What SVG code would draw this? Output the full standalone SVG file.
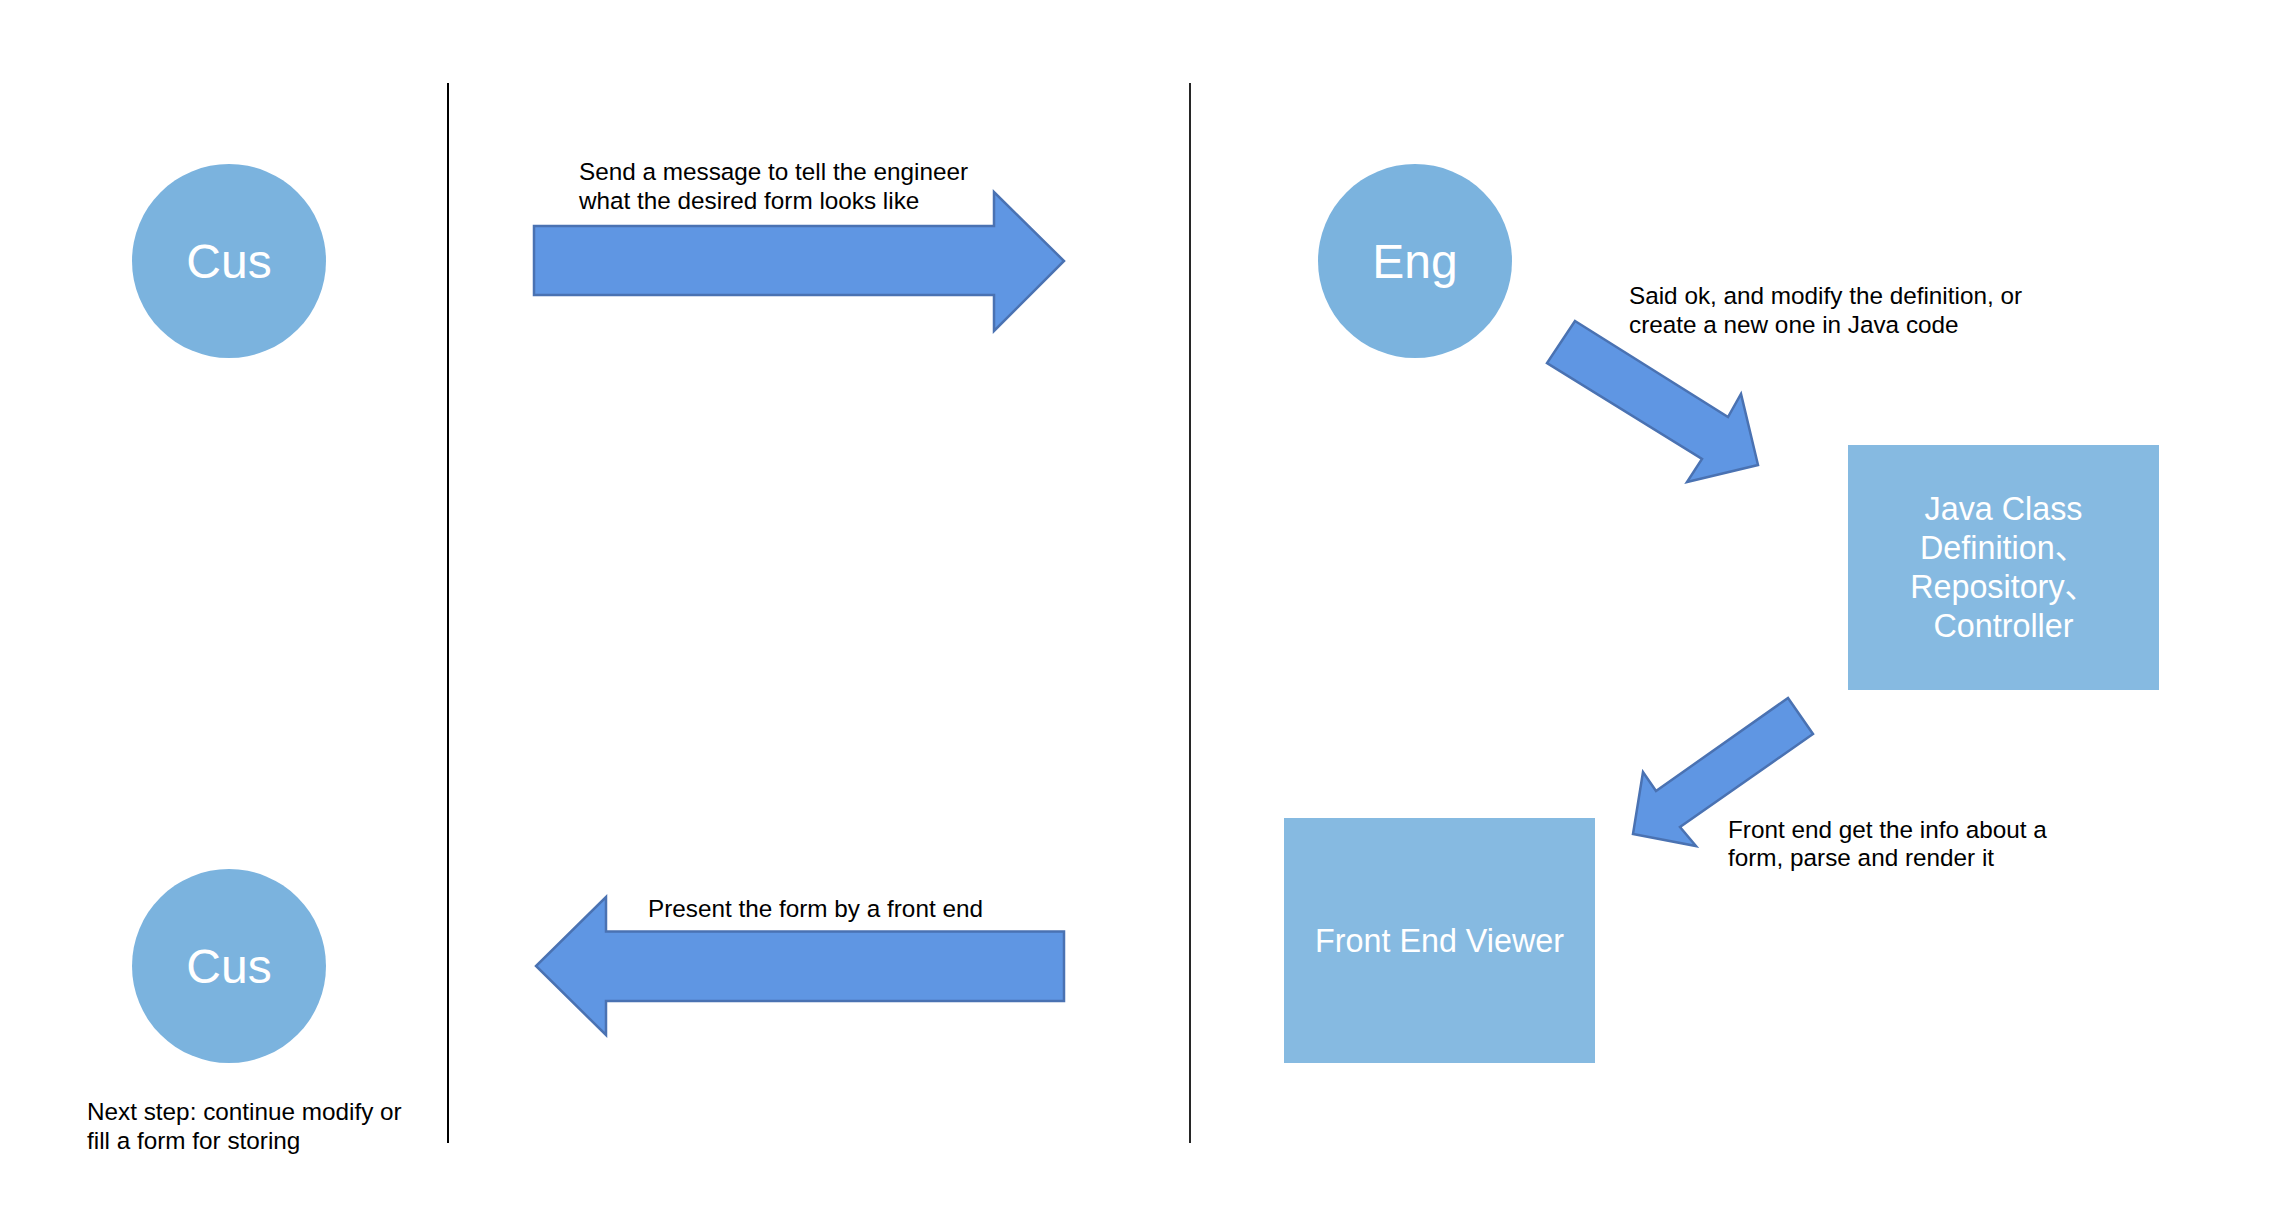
<svg xmlns="http://www.w3.org/2000/svg" width="2289" height="1222" viewBox="0 0 2289 1222">
  <style>
    .actor { fill: #7bb3de; }
    .box { fill: #86bae1; }
    .big { font-family: "Liberation Sans", Arial, "Noto Sans CJK SC", sans-serif; font-size: 48px; fill: #ffffff; text-anchor: middle; }
    .boxtxt { font-family: "Liberation Sans", Arial, "Noto Sans CJK SC", sans-serif; font-size: 32.3px; fill: #ffffff; text-anchor: middle; }
    .lbl { font-family: "Liberation Sans", Arial, "Noto Sans CJK SC", sans-serif; font-size: 24.3px; fill: #000000; }
    .arrow { fill: #5f96e3; stroke: #4a72b2; stroke-width: 2.5; stroke-linejoin: miter; }
    .divider { stroke: #000000; fill: none; }
  </style>
  <rect x="0" y="0" width="2289" height="1222" fill="#ffffff"/>

  <g id="dividers">
    <line class="divider" x1="448" y1="83" x2="448" y2="1143" stroke-width="2"/>
    <line class="divider" x1="1190" y1="83" x2="1190" y2="1143" stroke-width="1.7"/>
  </g>

  <g id="cus-top">
    <circle class="actor" cx="229" cy="261" r="97"/>
    <text class="big" x="229" y="277.7">Cus</text>
  </g>

  <g id="eng">
    <circle class="actor" cx="1415" cy="261" r="97"/>
    <text class="big" x="1415" y="277.7">Eng</text>
  </g>

  <g id="java-class">
    <rect class="box" x="1848" y="445" width="311" height="245"/>
    <text class="boxtxt" x="2003.5" y="520">Java Class</text>
    <text class="boxtxt" x="2003.5" y="559">Definition、</text>
    <text class="boxtxt" x="2003.5" y="598">Repository、</text>
    <text class="boxtxt" x="2003.5" y="637">Controller</text>
  </g>

  <g id="front-end-viewer">
    <rect class="box" x="1284" y="818" width="311" height="245"/>
    <text class="boxtxt" x="1439.5" y="952.3">Front End Viewer</text>
  </g>

  <g id="cus-bottom">
    <circle class="actor" cx="229" cy="966" r="97"/>
    <text class="big" x="229" y="982.7">Cus</text>
  </g>

  <g id="connectors">
    <polygon class="arrow" points="534,226 994,226 994,192 1064,261 994,331 994,295 534,295"/>
    <polygon class="arrow" points="1575,321 1728,417 1741,394 1758,465 1687,482 1702,459 1547,363"/>
    <polygon class="arrow" points="1788,698 1813,734 1680,827 1696,846 1633,834 1643,772 1656,791"/>
    <polygon class="arrow" points="1064,931.5 606,931.5 606,897 536,966 606,1035 606,1001 1064,1001"/>
  </g>

  <g id="labels">
    <text class="lbl" x="579" y="180">Send a message to tell the engineer</text>
    <text class="lbl" x="579" y="209">what the desired form looks like</text>
    <text class="lbl" x="1629" y="303.5">Said ok, and modify the definition, or</text>
    <text class="lbl" x="1629" y="332.5">create a new one in Java code</text>
    <text class="lbl" x="1728" y="837.5">Front end get the info about a</text>
    <text class="lbl" x="1728" y="866">form, parse and render it</text>
    <text class="lbl" x="648" y="917">Present the form by a front end</text>
    <text class="lbl" x="87" y="1120">Next step: continue modify or</text>
    <text class="lbl" x="87" y="1149">fill a form for storing</text>
  </g>
</svg>
